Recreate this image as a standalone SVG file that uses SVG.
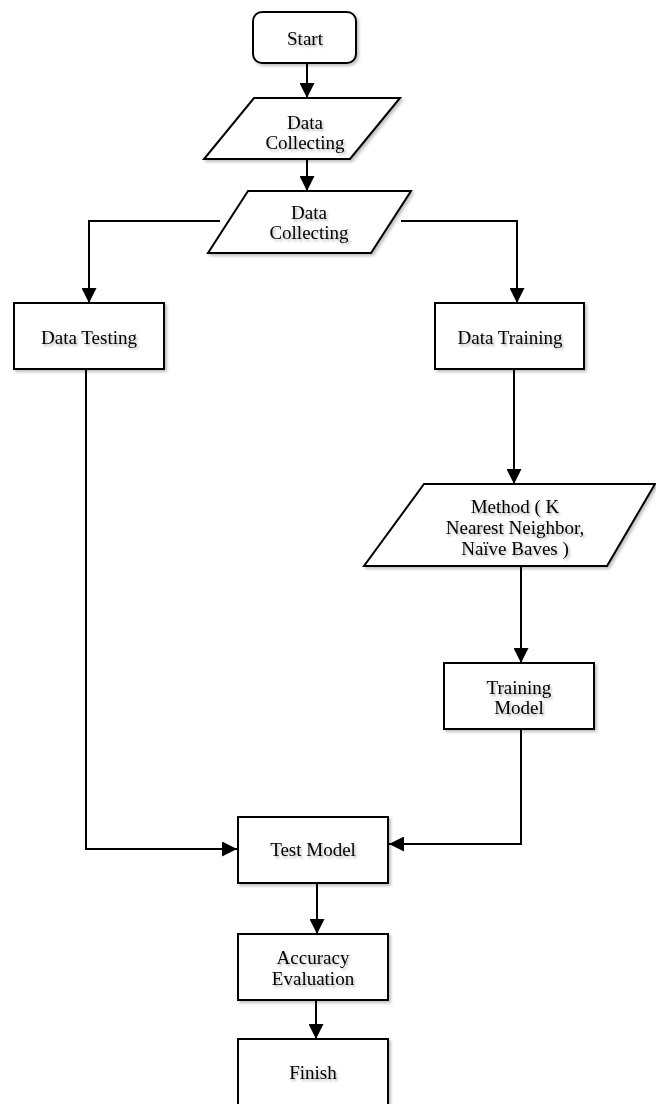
<svg xmlns="http://www.w3.org/2000/svg" width="656" height="1104" viewBox="0 0 656 1104">
<defs>
<filter id="sh" x="-10%" y="-10%" width="130%" height="130%">
<feDropShadow dx="2" dy="2" stdDeviation="1.5" flood-color="#000" flood-opacity="0.25"/>
</filter>
<filter id="tsh" x="-10%" y="-20%" width="130%" height="150%">
<feDropShadow dx="1.5" dy="2" stdDeviation="1.2" flood-color="#000" flood-opacity="0.3"/>
</filter>
<marker id="arr" markerUnits="userSpaceOnUse" markerWidth="15" markerHeight="15" refX="15" refY="7.5" orient="auto">
<path d="M0,0 L15,7.5 L0,15 Z" fill="#000"/>
</marker>
</defs>
<style>
.shape{fill:#fff;stroke:#000;stroke-width:2;filter:url(#sh)}
.lbl{font-family:"Liberation Serif","Times New Roman",serif;font-size:19px;fill:#000;text-anchor:middle;filter:url(#tsh)}
.con{fill:none;stroke:#000;stroke-width:2;marker-end:url(#arr)}
</style>
<rect width="656" height="1104" fill="#fff"/>
<g id="connectors">
<path class="con" d="M307,63 L307,98"/>
<path class="con" d="M307,159 L307,191"/>
<path class="con" d="M220,221 L89,221 L89,303"/>
<path class="con" d="M401,221 L517,221 L517,303"/>
<path class="con" d="M514,369 L514,484"/>
<path class="con" d="M521,566 L521,663"/>
<path class="con" d="M86,369 L86,849 L237,849"/>
<path class="con" d="M521,729 L521,844 L389,844"/>
<path class="con" d="M317,883 L317,934"/>
<path class="con" d="M316,1000 L316,1039"/>
</g>
<g id="start">
<rect class="shape" x="253" y="12" width="103" height="51" rx="9"/>
<text class="lbl" x="305" y="45">Start</text>
</g>
<g id="data-collecting-1">
<polygon class="shape" points="254,98 400,98 350,159 204,159"/>
<text class="lbl" x="305" y="129">Data</text>
<text class="lbl" x="305" y="149">Collecting</text>
</g>
<g id="data-collecting-2">
<polygon class="shape" points="248,191 411,191 371,253 208,253"/>
<text class="lbl" x="309" y="219">Data</text>
<text class="lbl" x="309" y="239">Collecting</text>
</g>
<g id="data-testing">
<rect class="shape" x="14" y="303" width="150" height="66"/>
<text class="lbl" x="89" y="344">Data Testing</text>
</g>
<g id="data-training">
<rect class="shape" x="435" y="303" width="149" height="66"/>
<text class="lbl" x="510" y="344">Data Training</text>
</g>
<g id="method">
<polygon class="shape" points="424,484 655,484 607,566 364,566"/>
<text class="lbl" x="515" y="513">Method ( K</text>
<text class="lbl" x="515" y="534">Nearest Neighbor,</text>
<text class="lbl" x="515" y="555">Naïve Baves )</text>
</g>
<g id="training-model">
<rect class="shape" x="444" y="663" width="150" height="66"/>
<text class="lbl" x="519" y="694">Training</text>
<text class="lbl" x="519" y="714">Model</text>
</g>
<g id="test-model">
<rect class="shape" x="238" y="817" width="150" height="66"/>
<text class="lbl" x="313" y="856">Test Model</text>
</g>
<g id="accuracy-evaluation">
<rect class="shape" x="238" y="934" width="150" height="66"/>
<text class="lbl" x="313" y="964">Accuracy</text>
<text class="lbl" x="313" y="985">Evaluation</text>
</g>
<g id="finish">
<rect class="shape" x="238" y="1039" width="150" height="75"/>
<text class="lbl" x="313" y="1079">Finish</text>
</g>
</svg>
